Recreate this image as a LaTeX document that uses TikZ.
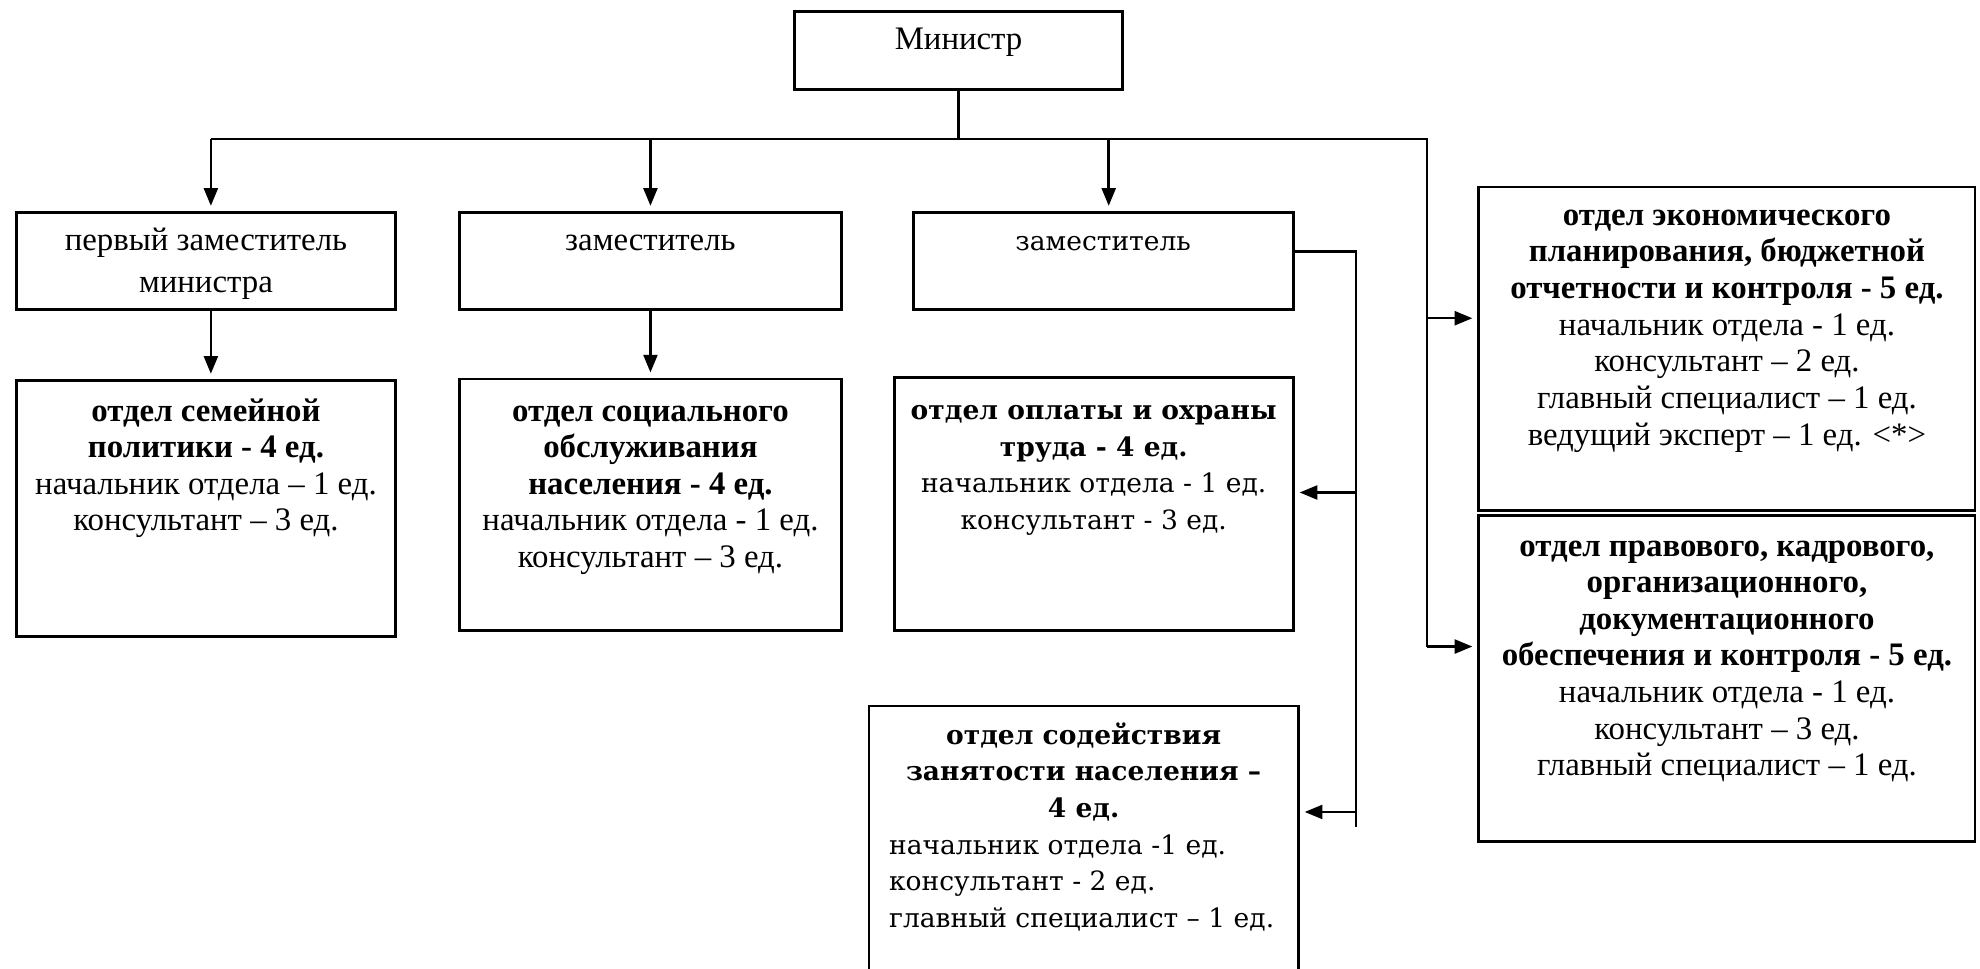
\documentclass[tikz,border=0pt]{standalone}
\usepackage{fontspec}
\setmainfont{Liberation Serif}
\newfontfamily\wide{DejaVu Serif}
\usetikzlibrary{arrows.meta}
\newcommand\bxt[4]{\parbox[c][#2][t]{#1}{\centering\vspace*{#3}\strut #4\par}}
\tikzset{
  box/.style={draw, line width=1.1pt, inner sep=0pt, anchor=north west,
    font=\fontsize{13}{14.5}\selectfont},
  conn/.style={line width=1pt},
  arr/.style={line width=1pt, -{Triangle[length=7pt,width=5.5pt]}, shorten >=2pt},
}
\begin{document}
\begin{tikzpicture}[x=1pt,y=-1pt]
\useasboundingbox[fill=white] (0,0) rectangle (784,383.5);
% top
\node[box] (min) at (314,4) {\bxt{130pt}{31pt}{5pt}{Министр}};
\node[box] (d1) at (6,83.5) {\bxt{150pt}{38.5pt}{5pt}{первый заместитель\\[2pt]министра}};
\node[box] (d2) at (181.5,83.5) {\bxt{151pt}{38.5pt}{5pt}{заместитель}};
\node[box] (d3) at (361,83.5) {\bxt{150.5pt}{38.5pt}{5pt}{\wide\fontsize{10.5}{14.5}\selectfont заместитель}};
% departments
\node[box] (o1) at (6,150) {\bxt{150pt}{101.5pt}{6pt}{{\bfseries отдел семейной\\политики - 4 ед.}\\начальник отдела – 1 ед.\\консультант – 3 ед.}};
\node[box] (o2) at (181.5,149.5) {\bxt{151pt}{99.5pt}{6.5pt}{{\bfseries отдел социального\\обслуживания\\населения - 4 ед.}\\начальник отдела - 1 ед.\\консультант – 3 ед.}};
\node[box] (o3) at (353.5,149) {\bxt{158pt}{100pt}{6.5pt}{\wide\fontsize{10.5}{14.5}\selectfont{\bfseries отдел оплаты и охраны\\труда - 4 ед.}\\начальник отдела - 1 ед.\\консультант - 3 ед.}};
\node[box] (o4) at (343.5,279) {\parbox[c][111pt][t]{170pt}{\wide\fontsize{10.5}{14.5}\selectfont\vspace*{5pt}\centering\strut{\bfseries отдел содействия\\занятости населения –\\4 ед.}\par
  \raggedright\leftskip=8pt начальник отдела -1 ед.\\консультант - 2 ед.\\главный специалист – 1 ед.\par}};
\node[box] (ea) at (585,73.5) {\bxt{196.5pt}{128pt}{5pt}{{\bfseries отдел экономического\\планирования, бюджетной\\отчетности и контроля - 5 ед.}\\начальник отдела - 1 ед.\\консультант – 2 ед.\\главный специалист – 1 ед.\\ведущий эксперт – 1 ед. <*>}};
\node[box] (eb) at (585,203.5) {\bxt{196.5pt}{129pt}{6pt}{{\bfseries отдел правового, кадрового,\\организационного,\\документационного\\обеспечения и контроля - 5 ед.}\\начальник отдела - 1 ед.\\консультант – 3 ед.\\главный специалист – 1 ед.}};
% connector points
\coordinate (bl) at (83.5,55);
\coordinate (br) at (565,55);
\coordinate (a3) at (439,55);
\coordinate (rb) at (565,256);
\coordinate (ja) at (565,126);
\coordinate (r3t) at (537,99.5);
\coordinate (r3b) at (537,327.5);
\coordinate (j3) at (537,195);
\coordinate (j4) at (537,321.5);
% connectors
\draw[conn] (min.south) -- (min.south |- bl);
\draw[conn] (bl) -- (br) -- (rb);
\draw[arr] (bl) -- (d1.north -| bl);
\draw[arr] (d2.north |- bl) -- (d2.north);
\draw[arr] (a3) -- (d3.north -| a3);
\draw[arr] (d1.south -| bl) -- (o1.north -| bl);
\draw[arr] (d2.south) -- (o2.north);
\draw[conn] (d3.east |- r3t) -- (r3t) -- (r3b);
\draw[arr] (j3) -- (o3.east |- j3);
\draw[arr] (j4) -- (o4.east |- j4);
\draw[arr] (ja) -- (ea.west |- ja);
\draw[arr] (rb) -- (eb.west |- rb);
\end{tikzpicture}
\end{document}
